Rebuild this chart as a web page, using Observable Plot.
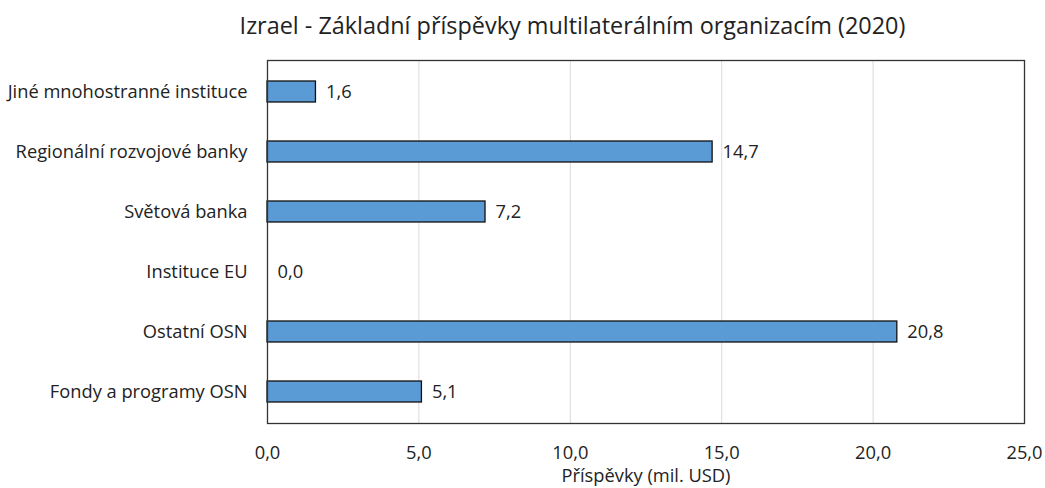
<!DOCTYPE html>
<html>
<head>
<meta charset="utf-8">
<script src="https://cdn.jsdelivr.net/npm/d3@7"></script>
<script src="https://cdn.jsdelivr.net/npm/@observablehq/plot@0.6"></script>
<style>
  body { margin: 0; background: #fff; font-family: "Open Sans", sans-serif; }
  #title { height: 50px; width: 1045px; position: relative; }
  #title span { position: absolute; left: 50px; width: 1045px; top: 9px; text-align: center; font-size: 23.4px; color: #222; white-space: nowrap; }
  #chart svg { display: block; }
</style>
</head>
<body>
<div id="title"><span>Izrael - Základní příspěvky multilaterálním organizacím (2020)</span></div>
<div id="chart"></div>
<script>
const categories = [
  "Jiné mnohostranné instituce",
  "Regionální rozvojové banky",
  "Světová banka",
  "Instituce EU",
  "Ostatní OSN",
  "Fondy a programy OSN"
];
const values = [1.6, 14.7, 7.2, 0.0, 20.8, 5.1];
const xTicks = [0, 5, 10, 15, 20, 25];
const xLabel = "Příspěvky (mil. USD)";

const data = categories.map((c, i) => ({category: c, value: values[i]}));
const fmt = d => d.toFixed(1).replace(".", ",");

const chart = Plot.plot({
  width: 1045,
  height: 438,
  marginLeft: 267,
  marginRight: 21,
  marginTop: 10,
  marginBottom: 65,
  style: {fontFamily: "'Open Sans', sans-serif", fontSize: "18px", color: "#222", background: "#fff"},
  x: {domain: [0, 25], ticks: xTicks},
  y: {domain: categories, paddingInner: 0.65, paddingOuter: 0.325},
  marks: [
    Plot.gridX(xTicks.filter(t => t > 0 && t < 25), {stroke: "#d9d9d9", strokeOpacity: 1, strokeWidth: 1}),
    Plot.barX(data, {x: "value", y: "category", fill: "#5B9BD5", stroke: "#111", strokeWidth: 1.3}),
    Plot.text(data, {x: "value", y: "category", text: d => fmt(d.value), textAnchor: "start", dx: 10, fontSize: 18.3, fill: "#222"}),
    Plot.frame({stroke: "#333", strokeWidth: 1.3}),
    Plot.axisX(xTicks, {tickSize: 0, tickPadding: 22, tickFormat: fmt, label: null, fontSize: 18.3}),
    Plot.axisY({tickSize: 0, tickPadding: 20, label: null, fontSize: 18.3}),
    Plot.text([xLabel], {frameAnchor: "bottom", dy: 58, fontSize: 18.3, fill: "#222"})
  ]
});
document.getElementById("chart").appendChild(chart);
</script>
</body>
</html>
